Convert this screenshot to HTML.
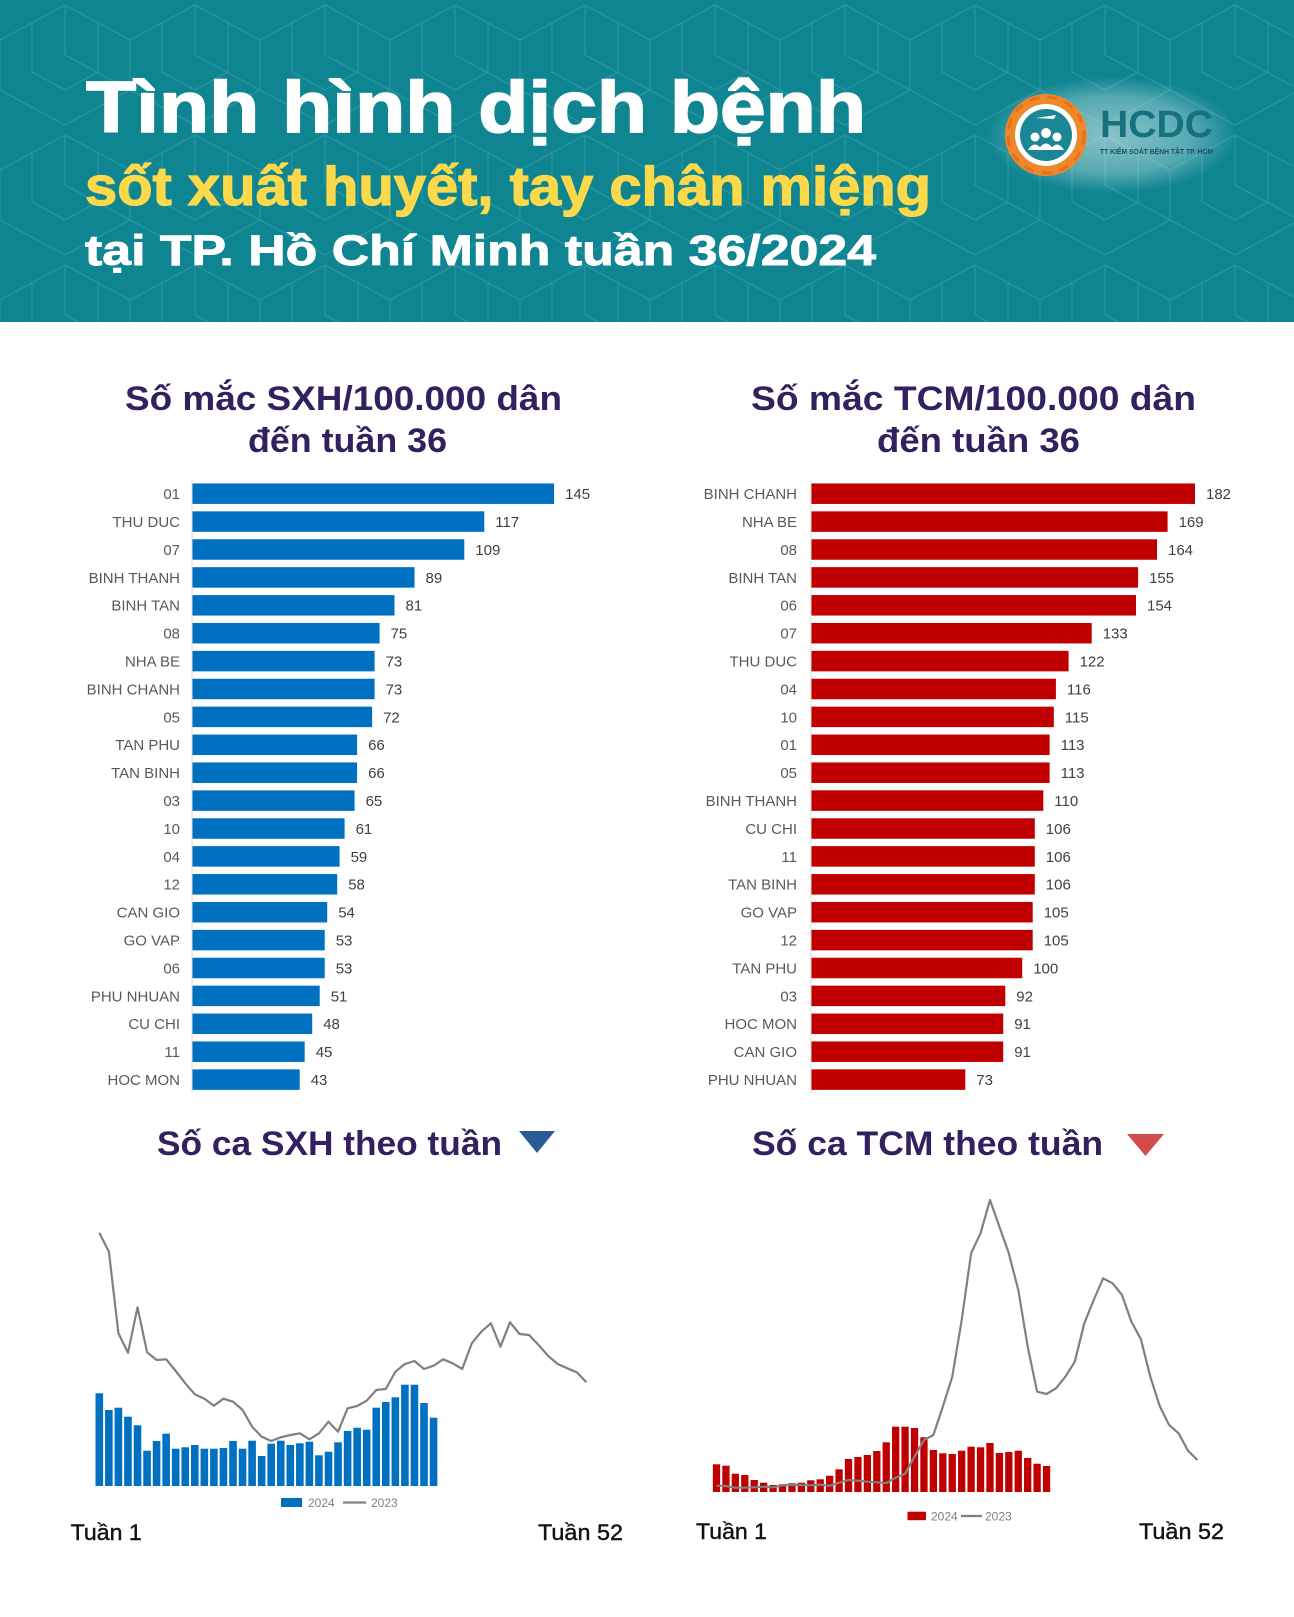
<!DOCTYPE html>
<html><head><meta charset="utf-8">
<style>
html,body{margin:0;padding:0;background:#fff;}
svg{display:block;}
text{font-family:"Liberation Sans","Noto Sans CJK SC",sans-serif;}
</style></head>
<body>
<svg xmlns="http://www.w3.org/2000/svg" width="1294" height="1617" viewBox="0 0 1294 1617">
<defs>
<pattern id="maze" width="130" height="130" patternUnits="userSpaceOnUse">
<path d="M0 40 L65 5 L130 40 M0 40 L0 90 M65 5 L65 55 L130 90 M130 40 L130 90 M0 90 L65 125 L130 90 M32 22 L32 72 L65 90 M98 22 L98 72 L65 90" stroke="#4aa7b1" stroke-width="1.3" fill="none" opacity="0.45"/>
</pattern>
<radialGradient id="glow" cx="0.5" cy="0.5" r="0.5">
<stop offset="0" stop-color="#ffffff" stop-opacity="0.5"/>
<stop offset="0.65" stop-color="#ffffff" stop-opacity="0.3"/>
<stop offset="1" stop-color="#ffffff" stop-opacity="0"/>
</radialGradient>
</defs>

<!-- Header -->
<rect x="0" y="0" width="1294" height="322" fill="#0f8592"/>
<rect x="0" y="0" width="1294" height="322" fill="url(#maze)"/>
<ellipse cx="1112" cy="135" rx="125" ry="58" fill="url(#glow)"/>

<text x="86" y="132" font-size="72" font-weight="bold" fill="#ffffff" stroke="#ffffff" stroke-width="1.6" textLength="780" lengthAdjust="spacingAndGlyphs">Tình hình dịch bệnh</text>
<text x="85" y="205" font-size="55" font-weight="bold" fill="#fcd94a" stroke="#fcd94a" stroke-width="1.2" textLength="846" lengthAdjust="spacingAndGlyphs">sốt xuất huyết, tay chân miệng</text>
<text x="85" y="265" font-size="43" font-weight="bold" fill="#ffffff" stroke="#ffffff" stroke-width="0.9" textLength="791" lengthAdjust="spacingAndGlyphs">tại TP. Hồ Chí Minh tuần 36/2024</text>

<!-- Logo -->
<circle cx="1046" cy="135" r="36" fill="none" stroke="#f0882a" stroke-width="10"/>
<circle cx="1046" cy="135" r="38" fill="none" stroke="#e56f1c" stroke-width="3" stroke-dasharray="10 8"/>
<circle cx="1046" cy="135" r="31" fill="#ffffff"/>
<circle cx="1046" cy="135" r="26" fill="#1b8796"/>
<circle cx="1035" cy="137" r="4.5" fill="#fff"/>
<circle cx="1046" cy="133" r="5" fill="#fff"/>
<circle cx="1057" cy="137" r="4.5" fill="#fff"/>
<path d="M1028 150 q7 -11 14 0 z M1038 150 q8 -13 16 0 z M1050 150 q7 -11 14 0 z" fill="#fff"/>
<path d="M1036 118 l20 -3 l-2 4 z" fill="#fff"/>
<text x="1100" y="137" font-size="38" font-weight="bold" fill="#17707e" textLength="113" lengthAdjust="spacingAndGlyphs">HCDC</text>
<text x="1100" y="154" font-size="7.5" font-weight="bold" fill="#1d4f5b" textLength="113" lengthAdjust="spacingAndGlyphs">TT KIỂM SOÁT BỆNH TẬT TP. HCM</text>

<!-- Chart titles -->
<g font-weight="bold" fill="#33205f" font-size="34">
<text x="125" y="410" textLength="437" lengthAdjust="spacingAndGlyphs">Số mắc SXH/100.000 dân</text>
<text x="248" y="452" textLength="199" lengthAdjust="spacingAndGlyphs">đến tuần 36</text>
<text x="751" y="410" textLength="445" lengthAdjust="spacingAndGlyphs">Số mắc TCM/100.000 dân</text>
<text x="877" y="452" textLength="203" lengthAdjust="spacingAndGlyphs">đến tuần 36</text>
</g>

<!-- Left bar chart -->
<line x1="192" y1="479" x2="192" y2="1093" stroke="#d9d9d9" stroke-width="1"/>
<g fill="#0070c0">
<rect x="192.5" y="483.45" width="361.6" height="20.5"/>
<rect x="192.5" y="511.35" width="291.8" height="20.5"/>
<rect x="192.5" y="539.25" width="271.8" height="20.5"/>
<rect x="192.5" y="567.15" width="222.0" height="20.5"/>
<rect x="192.5" y="595.05" width="202.0" height="20.5"/>
<rect x="192.5" y="622.95" width="187.1" height="20.5"/>
<rect x="192.5" y="650.85" width="182.1" height="20.5"/>
<rect x="192.5" y="678.75" width="182.1" height="20.5"/>
<rect x="192.5" y="706.65" width="179.6" height="20.5"/>
<rect x="192.5" y="734.55" width="164.6" height="20.5"/>
<rect x="192.5" y="762.45" width="164.6" height="20.5"/>
<rect x="192.5" y="790.35" width="162.1" height="20.5"/>
<rect x="192.5" y="818.25" width="152.1" height="20.5"/>
<rect x="192.5" y="846.15" width="147.1" height="20.5"/>
<rect x="192.5" y="874.05" width="144.7" height="20.5"/>
<rect x="192.5" y="901.95" width="134.7" height="20.5"/>
<rect x="192.5" y="929.85" width="132.2" height="20.5"/>
<rect x="192.5" y="957.75" width="132.2" height="20.5"/>
<rect x="192.5" y="985.65" width="127.2" height="20.5"/>
<rect x="192.5" y="1013.55" width="119.7" height="20.5"/>
<rect x="192.5" y="1041.45" width="112.2" height="20.5"/>
<rect x="192.5" y="1069.35" width="107.2" height="20.5"/>
</g>
<g font-size="15" fill="#595959" text-anchor="end">
<text x="180" y="499.1">01</text>
<text x="180" y="527.0">THU DUC</text>
<text x="180" y="554.9">07</text>
<text x="180" y="582.8">BINH THANH</text>
<text x="180" y="610.7">BINH TAN</text>
<text x="180" y="638.6">08</text>
<text x="180" y="666.5">NHA BE</text>
<text x="180" y="694.4">BINH CHANH</text>
<text x="180" y="722.3">05</text>
<text x="180" y="750.2">TAN PHU</text>
<text x="180" y="778.1">TAN BINH</text>
<text x="180" y="806.0">03</text>
<text x="180" y="833.9">10</text>
<text x="180" y="861.8">04</text>
<text x="180" y="889.7">12</text>
<text x="180" y="917.6">CAN GIO</text>
<text x="180" y="945.5">GO VAP</text>
<text x="180" y="973.4">06</text>
<text x="180" y="1001.3">PHU NHUAN</text>
<text x="180" y="1029.2">CU CHI</text>
<text x="180" y="1057.1">11</text>
<text x="180" y="1085.0">HOC MON</text>
</g>
<g font-size="15" fill="#404040">
<text x="565.1" y="499.1">145</text>
<text x="495.3" y="527.0">117</text>
<text x="475.3" y="554.9">109</text>
<text x="425.5" y="582.8">89</text>
<text x="405.5" y="610.7">81</text>
<text x="390.6" y="638.6">75</text>
<text x="385.6" y="666.5">73</text>
<text x="385.6" y="694.4">73</text>
<text x="383.1" y="722.3">72</text>
<text x="368.1" y="750.2">66</text>
<text x="368.1" y="778.1">66</text>
<text x="365.6" y="806.0">65</text>
<text x="355.6" y="833.9">61</text>
<text x="350.6" y="861.8">59</text>
<text x="348.2" y="889.7">58</text>
<text x="338.2" y="917.6">54</text>
<text x="335.7" y="945.5">53</text>
<text x="335.7" y="973.4">53</text>
<text x="330.7" y="1001.3">51</text>
<text x="323.2" y="1029.2">48</text>
<text x="315.7" y="1057.1">45</text>
<text x="310.7" y="1085.0">43</text>
</g>

<!-- Right bar chart -->
<line x1="811" y1="479" x2="811" y2="1093" stroke="#d9d9d9" stroke-width="1"/>
<g fill="#c00000">
<rect x="811.5" y="483.45" width="383.5" height="20.5"/>
<rect x="811.5" y="511.35" width="356.1" height="20.5"/>
<rect x="811.5" y="539.25" width="345.5" height="20.5"/>
<rect x="811.5" y="567.15" width="326.6" height="20.5"/>
<rect x="811.5" y="595.05" width="324.5" height="20.5"/>
<rect x="811.5" y="622.95" width="280.2" height="20.5"/>
<rect x="811.5" y="650.85" width="257.1" height="20.5"/>
<rect x="811.5" y="678.75" width="244.4" height="20.5"/>
<rect x="811.5" y="706.65" width="242.3" height="20.5"/>
<rect x="811.5" y="734.55" width="238.1" height="20.5"/>
<rect x="811.5" y="762.45" width="238.1" height="20.5"/>
<rect x="811.5" y="790.35" width="231.8" height="20.5"/>
<rect x="811.5" y="818.25" width="223.3" height="20.5"/>
<rect x="811.5" y="846.15" width="223.3" height="20.5"/>
<rect x="811.5" y="874.05" width="223.3" height="20.5"/>
<rect x="811.5" y="901.95" width="221.2" height="20.5"/>
<rect x="811.5" y="929.85" width="221.2" height="20.5"/>
<rect x="811.5" y="957.75" width="210.7" height="20.5"/>
<rect x="811.5" y="985.65" width="193.8" height="20.5"/>
<rect x="811.5" y="1013.55" width="191.7" height="20.5"/>
<rect x="811.5" y="1041.45" width="191.7" height="20.5"/>
<rect x="811.5" y="1069.35" width="153.8" height="20.5"/>
</g>
<g font-size="15" fill="#595959" text-anchor="end">
<text x="797" y="499.1">BINH CHANH</text>
<text x="797" y="527.0">NHA BE</text>
<text x="797" y="554.9">08</text>
<text x="797" y="582.8">BINH TAN</text>
<text x="797" y="610.7">06</text>
<text x="797" y="638.6">07</text>
<text x="797" y="666.5">THU DUC</text>
<text x="797" y="694.4">04</text>
<text x="797" y="722.3">10</text>
<text x="797" y="750.2">01</text>
<text x="797" y="778.1">05</text>
<text x="797" y="806.0">BINH THANH</text>
<text x="797" y="833.9">CU CHI</text>
<text x="797" y="861.8">11</text>
<text x="797" y="889.7">TAN BINH</text>
<text x="797" y="917.6">GO VAP</text>
<text x="797" y="945.5">12</text>
<text x="797" y="973.4">TAN PHU</text>
<text x="797" y="1001.3">03</text>
<text x="797" y="1029.2">HOC MON</text>
<text x="797" y="1057.1">CAN GIO</text>
<text x="797" y="1085.0">PHU NHUAN</text>
</g>
<g font-size="15" fill="#404040">
<text x="1206" y="499.1">182</text>
<text x="1178.6" y="527.0">169</text>
<text x="1168" y="554.9">164</text>
<text x="1149.1" y="582.8">155</text>
<text x="1147" y="610.7">154</text>
<text x="1102.7" y="638.6">133</text>
<text x="1079.6" y="666.5">122</text>
<text x="1066.9" y="694.4">116</text>
<text x="1064.8" y="722.3">115</text>
<text x="1060.6" y="750.2">113</text>
<text x="1060.6" y="778.1">113</text>
<text x="1054.3" y="806.0">110</text>
<text x="1045.8" y="833.9">106</text>
<text x="1045.8" y="861.8">106</text>
<text x="1045.8" y="889.7">106</text>
<text x="1043.7" y="917.6">105</text>
<text x="1043.7" y="945.5">105</text>
<text x="1033.2" y="973.4">100</text>
<text x="1016.3" y="1001.3">92</text>
<text x="1014.2" y="1029.2">91</text>
<text x="1014.2" y="1057.1">91</text>
<text x="976.3" y="1085.0">73</text>
</g>

<!-- Section titles -->
<g font-weight="bold" fill="#33205f" font-size="34">
<text x="157" y="1155" textLength="345" lengthAdjust="spacingAndGlyphs">Số ca SXH theo tuần</text>
<text x="752" y="1155" textLength="351" lengthAdjust="spacingAndGlyphs">Số ca TCM theo tuần</text>
</g>
<polygon points="519,1131 555,1131 537,1153" fill="#2b5b93"/>
<polygon points="1127,1134 1164,1134 1145.5,1156" fill="#d44b4b"/>

<!-- Left line chart bars -->
<g fill="#0070c0">
<rect x="95.5" y="1393.3" width="7.6" height="92.7"/>
<rect x="105.05" y="1410" width="7.6" height="76"/>
<rect x="114.6" y="1407.7" width="7.6" height="78.3"/>
<rect x="124.15" y="1416.7" width="7.6" height="69.3"/>
<rect x="133.7" y="1425.3" width="7.6" height="60.7"/>
<rect x="143.25" y="1450.7" width="7.6" height="35.3"/>
<rect x="152.8" y="1441" width="7.6" height="45"/>
<rect x="162.35" y="1433.7" width="7.6" height="52.3"/>
<rect x="171.9" y="1448.7" width="7.6" height="37.3"/>
<rect x="181.45" y="1447.3" width="7.6" height="38.7"/>
<rect x="191" y="1445" width="7.6" height="41"/>
<rect x="200.55" y="1448.7" width="7.6" height="37.3"/>
<rect x="210.1" y="1448.7" width="7.6" height="37.3"/>
<rect x="219.65" y="1448" width="7.6" height="38"/>
<rect x="229.2" y="1441" width="7.6" height="45"/>
<rect x="238.75" y="1448.7" width="7.6" height="37.3"/>
<rect x="248.3" y="1440.7" width="7.6" height="45.3"/>
<rect x="257.85" y="1456" width="7.6" height="30"/>
<rect x="267.4" y="1443.7" width="7.6" height="42.3"/>
<rect x="276.95" y="1440.7" width="7.6" height="45.3"/>
<rect x="286.5" y="1445" width="7.6" height="41"/>
<rect x="296.05" y="1443.3" width="7.6" height="42.7"/>
<rect x="305.6" y="1441.7" width="7.6" height="44.3"/>
<rect x="315.15" y="1455.3" width="7.6" height="30.7"/>
<rect x="324.7" y="1451.7" width="7.6" height="34.3"/>
<rect x="334.25" y="1442.3" width="7.6" height="43.7"/>
<rect x="343.8" y="1431" width="7.6" height="55"/>
<rect x="353.35" y="1427.7" width="7.6" height="58.3"/>
<rect x="362.9" y="1429.7" width="7.6" height="56.3"/>
<rect x="372.45" y="1407.7" width="7.6" height="78.3"/>
<rect x="382" y="1402" width="7.6" height="84"/>
<rect x="391.55" y="1397.3" width="7.6" height="88.7"/>
<rect x="401.1" y="1384.7" width="7.6" height="101.3"/>
<rect x="410.65" y="1384.7" width="7.6" height="101.3"/>
<rect x="420.2" y="1403" width="7.6" height="83"/>
<rect x="429.75" y="1417.7" width="7.6" height="68.3"/>
</g>
<polyline fill="none" stroke="#808080" stroke-width="2.2" stroke-linejoin="round" points="99.3,1232.7 108.9,1251.7 118.4,1333.3 128,1352.7 137.5,1307.3 147.1,1352.3 156.6,1360 166.2,1359.3 175.7,1371 185.3,1383.3 194.8,1394.3 204.4,1398.7 213.9,1405.7 223.5,1398.7 233,1401.7 242.6,1410 252.1,1426.7 261.7,1436.7 271.2,1441 280.8,1437.3 290.3,1435 299.9,1433.3 309.4,1439.3 319,1433.3 328.5,1421.7 338.1,1431.7 347.6,1408.3 357.2,1406 366.7,1400.7 376.3,1390 385.8,1389 395.4,1371.7 404.9,1364 414.5,1361 424,1369 433.6,1365.7 443.1,1359.3 452.7,1363.3 462.2,1369 471.8,1343.3 481.3,1331.7 490.9,1323.3 500.4,1346.7 510,1322.3 519.5,1334 529.1,1335 538.6,1345 548.2,1356 557.7,1364 567.3,1368.3 576.8,1372.3 586.4,1382.3"/>
<!-- Left legend -->
<rect x="281" y="1498" width="21" height="9" fill="#0070c0"/>
<text x="308" y="1507" font-size="12" fill="#7f7f7f">2024</text>
<line x1="343" y1="1502.5" x2="366" y2="1502.5" stroke="#808080" stroke-width="2.2"/>
<text x="371" y="1507" font-size="12" fill="#7f7f7f">2023</text>
<text x="70.7" y="1540" font-size="22" fill="#111111" stroke="#111111" stroke-width="0.4" textLength="71" lengthAdjust="spacingAndGlyphs">Tuần 1</text>
<text x="538" y="1540" font-size="22" fill="#111111" stroke="#111111" stroke-width="0.4" textLength="85" lengthAdjust="spacingAndGlyphs">Tuần 52</text>

<!-- Right line chart bars -->
<g fill="#c00000">
<rect x="712.85" y="1464.3" width="7.3" height="27.7"/>
<rect x="722.28" y="1465.7" width="7.3" height="26.3"/>
<rect x="731.71" y="1473.7" width="7.3" height="18.3"/>
<rect x="741.14" y="1475" width="7.3" height="17"/>
<rect x="750.57" y="1480" width="7.3" height="12"/>
<rect x="760" y="1482.7" width="7.3" height="9.3"/>
<rect x="769.43" y="1485" width="7.3" height="7"/>
<rect x="778.86" y="1484.3" width="7.3" height="7.7"/>
<rect x="788.29" y="1483.3" width="7.3" height="8.7"/>
<rect x="797.72" y="1482.7" width="7.3" height="9.3"/>
<rect x="807.15" y="1480.3" width="7.3" height="11.7"/>
<rect x="816.58" y="1479.3" width="7.3" height="12.7"/>
<rect x="826.01" y="1475.7" width="7.3" height="16.3"/>
<rect x="835.44" y="1469.3" width="7.3" height="22.7"/>
<rect x="844.87" y="1459" width="7.3" height="33"/>
<rect x="854.3" y="1457" width="7.3" height="35"/>
<rect x="863.73" y="1455" width="7.3" height="37"/>
<rect x="873.16" y="1451" width="7.3" height="41"/>
<rect x="882.59" y="1442.3" width="7.3" height="49.7"/>
<rect x="892.02" y="1426.7" width="7.3" height="65.3"/>
<rect x="901.45" y="1426.7" width="7.3" height="65.3"/>
<rect x="910.88" y="1428" width="7.3" height="64"/>
<rect x="920.31" y="1437.3" width="7.3" height="54.7"/>
<rect x="929.74" y="1450" width="7.3" height="42"/>
<rect x="939.17" y="1453.3" width="7.3" height="38.7"/>
<rect x="948.6" y="1454" width="7.3" height="38"/>
<rect x="958.03" y="1450.7" width="7.3" height="41.3"/>
<rect x="967.46" y="1446.7" width="7.3" height="45.3"/>
<rect x="976.89" y="1447.3" width="7.3" height="44.7"/>
<rect x="986.32" y="1443" width="7.3" height="49"/>
<rect x="995.75" y="1453" width="7.3" height="39"/>
<rect x="1005.18" y="1452" width="7.3" height="40"/>
<rect x="1014.61" y="1450.7" width="7.3" height="41.3"/>
<rect x="1024.04" y="1458" width="7.3" height="34"/>
<rect x="1033.47" y="1463.7" width="7.3" height="28.3"/>
<rect x="1042.9" y="1466" width="7.3" height="26"/>
</g>
<polyline fill="none" stroke="#808080" stroke-width="2.2" stroke-linejoin="round" points="716.5,1485.7 725.9,1486 735.4,1487.7 744.8,1487.7 754.2,1487.3 763.7,1486.7 773.1,1487.3 782.5,1485.3 791.9,1485 801.4,1485 810.8,1485.3 820.2,1484.7 829.7,1485.7 839.1,1482.7 848.5,1480 858,1480.7 867.4,1481.7 876.8,1482.3 886.2,1483 895.7,1477.7 905.1,1473.7 914.5,1456.7 924,1440 933.4,1435 942.8,1406.7 952.3,1376.7 961.7,1320 971.1,1253.3 980.5,1233.3 990,1200 999.4,1226.7 1008.8,1253.3 1018.3,1290 1027.7,1346.7 1037.1,1391.7 1046.6,1394 1056,1388.3 1065.4,1376.7 1074.8,1361.7 1084.3,1323.3 1093.7,1300 1103.1,1278.3 1112.6,1283.3 1122,1295 1131.4,1321.7 1140.9,1339.3 1150.3,1376.7 1159.7,1406 1169.1,1425 1178.6,1433.3 1188,1450.7 1197.4,1460"/>
<!-- Right legend -->
<rect x="907.5" y="1511.7" width="18.5" height="8.5" fill="#c00000"/>
<text x="931" y="1520.5" font-size="12" fill="#7f7f7f">2024</text>
<line x1="961" y1="1516" x2="982" y2="1516" stroke="#808080" stroke-width="2.2"/>
<text x="985" y="1520.5" font-size="12" fill="#7f7f7f">2023</text>
<text x="696" y="1539" font-size="22" fill="#111111" stroke="#111111" stroke-width="0.4" textLength="71" lengthAdjust="spacingAndGlyphs">Tuần 1</text>
<text x="1139" y="1539" font-size="22" fill="#111111" stroke="#111111" stroke-width="0.4" textLength="85" lengthAdjust="spacingAndGlyphs">Tuần 52</text>
</svg>
</body></html>
